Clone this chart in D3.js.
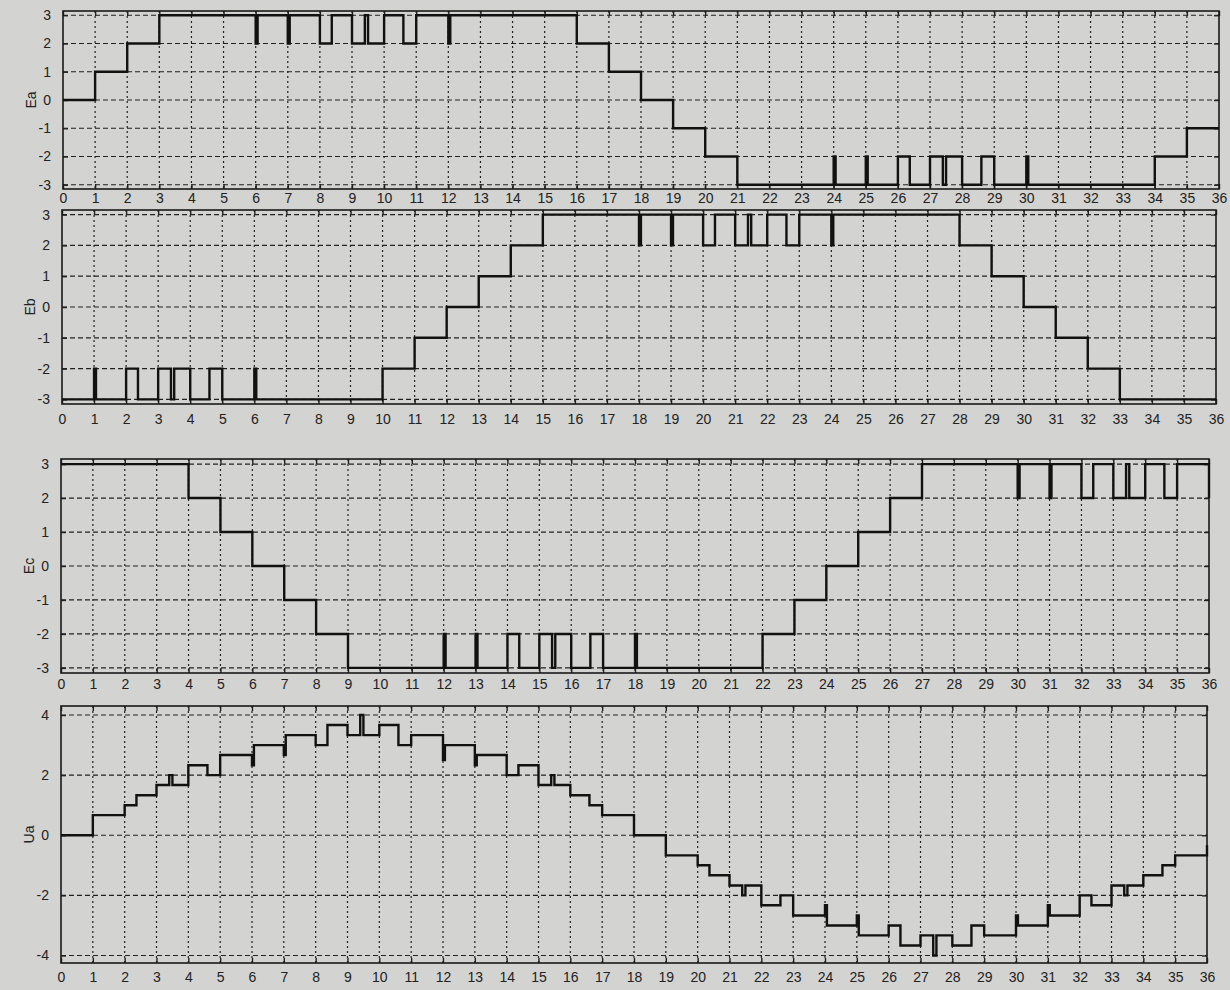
<!DOCTYPE html>
<html>
<head>
<meta charset="utf-8">
<script src="https://cdn.jsdelivr.net/npm/d3@7"></script>
<style>
  body { margin: 0; background: #d3d3d1; }
  svg { display: block; }
  .tick text { font-family: "Liberation Sans", Arial, sans-serif; font-size: 14px; fill: #222; }
</style>
</head>
<body>
<div id="chart"></div>
<script>
// x ticks shared by all four panels
const xTicks = d3.range(0, 37);
const yTicksE = [-3, -2, -1, 0, 1, 2, 3];
const yTicksU = [-4, -2, 0, 2, 4];
const panelLabels = ["Ea", "Eb", "Ec", "Ua"];

// step breakpoints [x, value] (value holds until next x)
const eaSteps = [
  [0, 0], [1, 1], [2, 2], [3, 3],
  [6, 2], [6.06, 3], [7, 2], [7.06, 3],
  [8, 2], [8.37, 3], [9, 2], [9.4, 3], [9.5, 2], [10, 3], [10.6, 2], [11, 3],
  [12, 2], [12.06, 3],
  [16, 2], [17, 1], [18, 0], [19, -1], [20, -2], [21, -3],
  [24, -2], [24.06, -3], [25, -2], [25.06, -3],
  [26, -2], [26.37, -3], [27, -2], [27.4, -3], [27.5, -2], [28, -3], [28.6, -2], [29, -3],
  [30, -2], [30.06, -3],
  [34, -2], [35, -1], [36, -1]
];

const ebSteps = [
  [0, -3], [1, -2], [1.06, -3], [2, -2], [2.37, -3], [3, -2], [3.4, -3], [3.5, -2], [4, -3],
  [4.6, -2], [5, -3], [6, -2], [6.06, -3],
  [10, -2], [11, -1], [12, 0], [13, 1], [14, 2], [15, 3],
  [18, 2], [18.06, 3], [19, 2], [19.06, 3], [20, 2], [20.37, 3], [21, 2], [21.4, 3], [21.5, 2],
  [22, 3], [22.6, 2], [23, 3], [24, 2], [24.06, 3],
  [28, 2], [29, 1], [30, 0], [31, -1], [32, -2], [33, -3], [36, -3]
];

const ecSteps = [
  [0, 3], [4, 2], [5, 1], [6, 0], [7, -1], [8, -2], [9, -3],
  [12, -2], [12.06, -3], [13, -2], [13.06, -3], [14, -2], [14.37, -3], [15, -2], [15.4, -3],
  [15.5, -2], [16, -3], [16.6, -2], [17, -3], [18, -2], [18.06, -3],
  [22, -2], [23, -1], [24, 0], [25, 1], [26, 2], [27, 3],
  [30, 2], [30.06, 3], [31, 2], [31.06, 3], [32, 2], [32.37, 3], [33, 2], [33.4, 3], [33.5, 2],
  [34, 3], [34.6, 2], [35, 3], [36, 2]
];

const uaSteps = [
  [0, 0], [1, 0.67], [2, 1.0], [2.37, 1.33], [3, 1.67], [3.4, 2.0], [3.5, 1.67], [4, 2.33],
  [4.6, 2.0], [5, 2.67], [6, 2.33], [6.06, 3.0], [7, 2.67], [7.06, 3.33], [8, 3.0], [8.37, 3.67],
  [9, 3.33], [9.4, 4.0], [9.5, 3.33], [10, 3.67], [10.6, 3.0], [11, 3.33],
  [12, 2.5], [12.06, 3.0], [13, 2.33], [13.06, 2.67], [14, 2.0], [14.37, 2.33], [15, 1.67],
  [15.4, 2.0], [15.5, 1.67], [16, 1.33], [16.6, 1.0], [17, 0.67],
  [18, 0], [19, -0.67], [20, -1.0], [20.37, -1.33], [21, -1.67], [21.4, -2.0], [21.5, -1.67],
  [22, -2.33], [22.6, -2.0], [23, -2.67], [24, -2.33], [24.06, -3.0], [25, -2.67], [25.06, -3.33],
  [26, -3.0], [26.37, -3.67], [27, -3.33], [27.4, -4.0], [27.5, -3.33], [28, -3.67], [28.6, -3.0],
  [29, -3.33], [30, -2.67], [30.06, -3.0], [31, -2.33], [31.06, -2.67], [32, -2.0], [32.37, -2.33],
  [33, -1.67], [33.4, -2.0], [33.5, -1.67], [34, -1.33], [34.6, -1.0], [35, -0.67], [36, -0.33]
];

const width = 1230;
const height = 990;

const svg = d3.select("#chart")
  .append("svg")
  .attr("width", width)
  .attr("height", height);

// panel boxes (pixels) – the scan is a little skewed so these are averages
const panels = [
  { data: eaSteps, label: panelLabels[0], yTicks: yTicksE, yDom: [-3.15, 3.15], left: 63, right: 1219, top: 11, bottom: 189, pad: 4 },
  { data: ebSteps, label: panelLabels[1], yTicks: yTicksE, yDom: [-3.15, 3.15], left: 62, right: 1216, top: 210, bottom: 404, pad: 10 },
  { data: ecSteps, label: panelLabels[2], yTicks: yTicksE, yDom: [-3.15, 3.15], left: 61, right: 1209, top: 459, bottom: 673, pad: 6 },
  { data: uaSteps, label: panelLabels[3], yTicks: yTicksU, yDom: [-4.25, 4.3], left: 61, right: 1207, top: 706, bottom: 963, pad: 9 }
];

panels.forEach(p => {
  const x = d3.scaleLinear().domain([0, 36]).range([p.left, p.right]);
  const y = d3.scaleLinear().domain(p.yDom).range([p.bottom, p.top]);
  const g = svg.append("g");

  // dotted grid
  g.append("g")
    .selectAll("line")
    .data(xTicks.slice(1, -1))
    .join("line")
    .attr("x1", d => x(d)).attr("x2", d => x(d))
    .attr("y1", p.top).attr("y2", p.bottom)
    .attr("stroke", "#222").attr("stroke-width", 1.2)
    .attr("stroke-dasharray", "2,3");

  g.append("g")
    .selectAll("line")
    .data(p.yTicks)
    .join("line")
    .attr("x1", p.left).attr("x2", p.right)
    .attr("y1", d => y(d)).attr("y2", d => y(d))
    .attr("stroke", "#222").attr("stroke-width", 1.2)
    .attr("stroke-dasharray", "5,3");

  // axes with inward ticks
  g.append("g")
    .attr("transform", `translate(0, ${p.bottom})`)
    .call(d3.axisBottom(x).tickValues(xTicks).tickSize(-5).tickPadding(p.pad).tickFormat(d => String(d)))
    .call(a => a.select(".domain").remove())
    .call(a => a.selectAll(".tick line").attr("stroke", "#222").attr("stroke-width", 1.4));

  g.append("g")
    .attr("transform", `translate(0, ${p.top})`)
    .call(d3.axisTop(x).tickValues(xTicks).tickSize(-5).tickFormat(""))
    .call(a => a.select(".domain").remove())
    .call(a => a.selectAll(".tick line").attr("stroke", "#222").attr("stroke-width", 1.4));

  g.append("g")
    .attr("transform", `translate(${p.left}, 0)`)
    .call(d3.axisLeft(y).tickValues(p.yTicks).tickSize(-5).tickPadding(12).tickFormat(d => String(d)))
    .call(a => a.select(".domain").remove())
    .call(a => a.selectAll(".tick line").attr("stroke", "#222").attr("stroke-width", 1.4));

  g.append("g")
    .attr("transform", `translate(${p.right}, 0)`)
    .call(d3.axisRight(y).tickValues(p.yTicks).tickSize(-5).tickFormat(""))
    .call(a => a.select(".domain").remove())
    .call(a => a.selectAll(".tick line").attr("stroke", "#222").attr("stroke-width", 1.4));

  // frame
  g.append("rect")
    .attr("x", p.left).attr("y", p.top)
    .attr("width", p.right - p.left).attr("height", p.bottom - p.top)
    .attr("fill", "none").attr("stroke", "#1a1a1a").attr("stroke-width", 1.6);

  // step trace
  const line = d3.line()
    .x(d => x(d[0]))
    .y(d => y(d[1]))
    .curve(d3.curveStepAfter);

  g.append("path")
    .datum(p.data)
    .attr("d", line)
    .attr("fill", "none")
    .attr("stroke", "#111")
    .attr("stroke-width", 2.4);

  // y label
  g.append("text")
    .attr("transform", `translate(${p.left - 27}, ${(p.top + p.bottom) / 2}) rotate(-90)`)
    .attr("text-anchor", "middle")
    .attr("font-family", "Liberation Sans, Arial, sans-serif")
    .attr("font-size", 14)
    .attr("fill", "#222")
    .text(p.label);
});
</script>
</body>
</html>
